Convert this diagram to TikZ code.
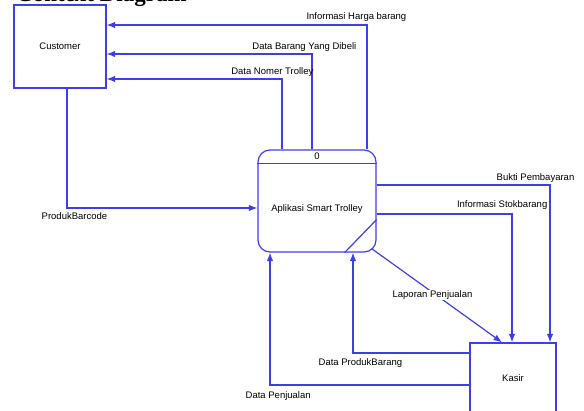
\documentclass[tikz,border=0pt]{standalone}
\usepackage{fontspec}
\setmainfont{Liberation Sans}
\newfontfamily\titlefont{Liberation Serif}
\usetikzlibrary{
	arrows.meta,
	positioning,
	calc
}
\definecolor{flowblue}{RGB}{62,62,232}

\begin{document}
\begin{tikzpicture}[x=1pt, y=1pt,
				box/.style={
					rectangle, draw=flowblue, line width=1.2pt,
					inner sep=0pt, fill=white,
					font=\fontsize{9.5}{11}\selectfont
				},
				entity/.style={
					box, minimum width=92pt, minimum height=83pt
				},
				process/.style={
					box, rounded corners=12pt,
					minimum width=118pt, minimum height=102pt
				},
				arrow/.style={-{Latex[length=8.5pt,width=6.5pt]}, flowblue, line width=1.2pt},
				flowlabel/.style={
					inner sep=0.5pt, font=\fontsize{9.5}{11}\selectfont
				},
				]
				\useasboundingbox (0,0) rectangle (584,410);
				
				\node[anchor=base west, inner sep=0pt, font=\titlefont\bfseries\fontsize{23}{26}\selectfont] (title) at (16,408) {Context Diagram};
				
				%entities
				\node[entity] (cust) at (60,363.5) {Customer};
				\node[entity, minimum width=86pt, minimum height=70pt] (kasir) at (513,32) {Kasir};
				
				%process
				\node[process] (proc) at (317,209) {};
				\node[flowlabel] (procname) at ([yshift=-8pt]proc.center) {Aplikasi Smart Trolley};
				\node[flowlabel] (procid) at ([yshift=-7pt]proc.north) {0};
				\draw[flowblue, line width=1.2pt] ([yshift=-14pt]proc.north west) -- ([yshift=-14pt]proc.north east);
				\draw[flowblue, line width=1.2pt] ([xshift=-32pt]proc.south east) -- ([yshift=33pt]proc.south east);
				
				%to customer
				\draw[arrow] ([xshift=50pt]proc.north) |- ([yshift=21.5pt]cust.east);
				\node[flowlabel, anchor=base east] (harga) at (407,390.5) {Informasi Harga barang};
				
				\draw[arrow] ([xshift=-5pt]proc.north) |- ([yshift=-7.5pt]cust.east);
				\node[flowlabel, anchor=base east] (dibeli) at (357,360.5) {Data Barang Yang Dibeli};
				
				\draw[arrow] ([xshift=-35pt]proc.north) |- ([yshift=-32.5pt]cust.east);
				\node[flowlabel, anchor=base east] (nomer) at (314,335.5) {Data Nomer Trolley};
				
				%from customer
				\draw[arrow] ([xshift=7pt]cust.south) |- ([yshift=-7pt]proc.west);
				\node[flowlabel, anchor=base west] (barcode) at (41,190) {ProdukBarcode};
				
				%to kasir
				\draw[arrow] ([yshift=16pt]proc.east) -| ([xshift=37pt]kasir.north);
				\node[flowlabel, anchor=base east] (bukti) at (575,229.5) {Bukti Pembayaran};
				
				\draw[arrow] ([yshift=-13pt]proc.east) -| ([xshift=-1pt]kasir.north);
				\node[flowlabel, anchor=base east] (stok) at (548,202) {Informasi Stokbarang};
				
				\draw[arrow] ([xshift=-5pt, yshift=4pt]proc.south east) -- ([xshift=-11pt]kasir.north);
				\node[flowlabel, anchor=base, fill=white] (laporan) at (432.5,112.5) {Laporan Penjualan};
				
				%from kasir
				\draw[arrow] ([yshift=25pt]kasir.west) -| ([xshift=36pt]proc.south);
				\node[flowlabel, anchor=base west] (produk) at (318,45) {Data ProdukBarang};
				
				\draw[arrow] ([yshift=-7pt]kasir.west) -| ([xshift=-47pt]proc.south);
				\node[flowlabel, anchor=base west] (penjualan) at (245,12) {Data Penjualan};
\end{tikzpicture}
\end{document}
